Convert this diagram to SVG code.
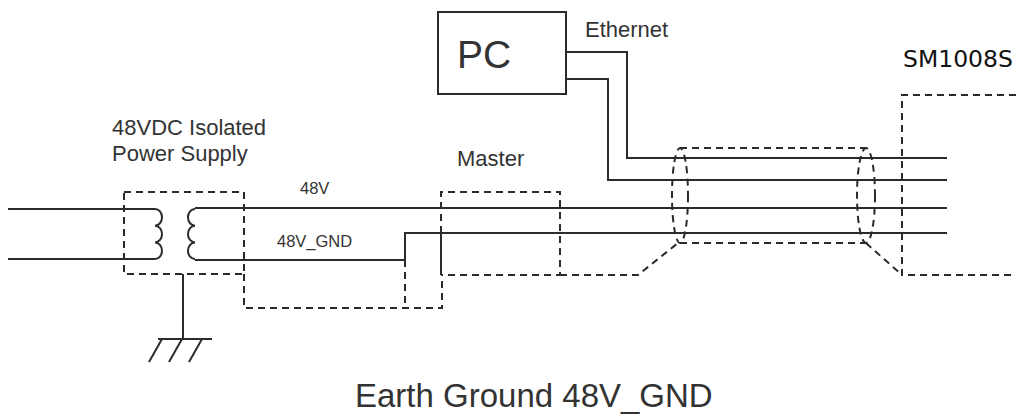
<svg xmlns="http://www.w3.org/2000/svg" width="1016" height="414" viewBox="0 0 1016 414">
<style>
.w{fill:none;stroke:#2b2b2b;stroke-width:2}
.d{fill:none;stroke:#2b2b2b;stroke-width:2;stroke-dasharray:7,5}
.t{font-family:"Liberation Sans",Arial,sans-serif;fill:#333}
.s{font-family:"DejaVu Sans",sans-serif;fill:#111}
</style>
<rect width="1016" height="414" fill="#fff"/>
<g id="power-supply">
<rect class="d" x="124" y="192" width="120" height="82"/>
<path class="w" d="M155,209 a7,8.3 0 0 1 0,16.7 a7,8.3 0 0 1 0,16.7 a7,8.3 0 0 1 0,16.6"/>
<path class="w" d="M195,209 a7,8.3 0 0 0 0,16.7 a7,8.3 0 0 0 0,16.7 a7,8.3 0 0 0 0,16.6"/>
<text class="t" x="112" y="135" font-size="22">48VDC Isolated</text>
<text class="t" x="112" y="161" font-size="22">Power Supply</text>
</g>
<g id="earth">
<path class="w" d="M183,274 V339 M158,339 H212 M162,339 L149,362 M182,339 L169,362 M202,339 L189,362"/>
</g>
<g id="pc">
<rect class="w" x="438" y="12" width="128" height="82"/>
<text class="t" x="457" y="68" font-size="39">PC</text>
</g>
<g id="master">
<path class="d" d="M441,233 V192 H560 V275 H441"/>
<text class="t" x="457" y="166" font-size="22">Master</text>
</g>
<g id="shield">
<path class="d" d="M680,148 H866 M680,243 H866"/>
<ellipse class="d" cx="680" cy="195.5" rx="8" ry="47.5"/>
<ellipse class="d" cx="866" cy="195.5" rx="9" ry="47.5"/>
</g>
<g id="sm1008s">
<path class="d" d="M1016,95 H902 V275 H1016"/>
<text class="s" x="903" y="67" font-size="23.5">SM1008S</text>
</g>
<g id="connectors">
<path class="w" d="M8,209 H155 M8,259 H155"/>
<path class="w" d="M195,208 H947"/>
<path class="w" d="M195,260 H405 V233 H947"/>
<path class="w" d="M441,233 V275"/>
<path class="w" d="M566,52 H627 V158 H947"/>
<path class="w" d="M566,79 H608 V180 H947"/>
<path class="d" d="M244,274 V308 H442 V275"/>
<path class="d" d="M405,260 V308"/>
<path class="d" d="M560,275 H638 L678,243"/>
<path class="d" d="M866,243 L902,275"/>
<text class="t" x="585" y="37" font-size="22">Ethernet</text>
<text class="t" x="300" y="194" font-size="16.5">48V</text>
<text class="t" x="277" y="247" font-size="16.5">48V_GND</text>
</g>
<text class="t" x="355" y="407" font-size="33">Earth Ground 48V_GND</text>
</svg>
